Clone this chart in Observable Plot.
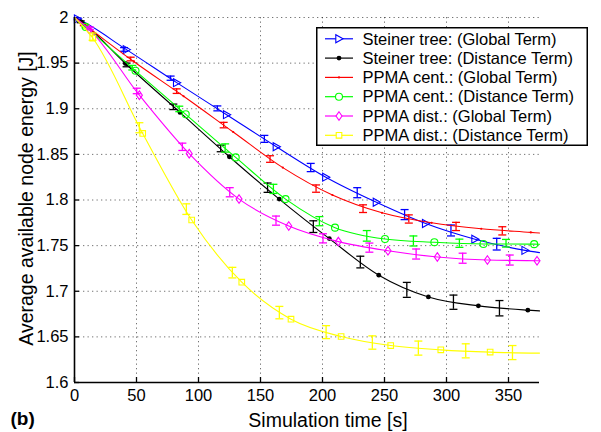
<!DOCTYPE html>
<html><head><meta charset="utf-8">
<script src="https://cdn.jsdelivr.net/npm/d3@7"></script>
<script src="https://cdn.jsdelivr.net/npm/@observablehq/plot@0.6"></script>
<style>
html,body{margin:0;padding:0;background:#fff;}
#wrap{position:relative;width:601px;height:432px;overflow:hidden;background:#fff;}
#legend{position:absolute;left:316px;top:27px;}
</style></head><body>
<div id="wrap"></div>
<script>
// ---------- axis ticks ----------
const xTicks = [0, 50, 100, 150, 200, 250, 300, 350];
const xTickLabels = ["0", "50", "100", "150", "200", "250", "300", "350"];
const yTicks = [1.6, 1.65, 1.7, 1.75, 1.8, 1.85, 1.9, 1.95, 2];
const yTickLabels = ["1.6", "1.65", "1.7", "1.75", "1.8", "1.85", "1.9", "1.95", "2"];
const xDomain = [0, 375];
const yDomain = [1.6, 2];
const xLabel = "Simulation time [s]";
const yLabel = "Average available node energy [J]";
const panelTag = "(b)";

// ---------- series ----------
const seriesNames = [
  "Steiner tree: (Global Term)",
  "Steiner tree: (Distance Term)",
  "PPMA cent.: (Global Term)",
  "PPMA cent.: (Distance Term)",
  "PPMA dist.: (Global Term)",
  "PPMA dist.: (Distance Term)"
];
const seriesColors = ["#0000ff", "#000000", "#ff0000", "#00ff00", "#ff00ff", "#ffff00"];
const startTime = 0, startEnergy = 2.0, endTime = 375;

// Steiner tree: (Global Term)
const stGlobalMarkX = [2.5, 41.9, 82.4, 122.7, 162.8, 202.7, 243.5, 283.2, 323, 363.4];
const stGlobalMarkY = [1.9985, 1.9648, 1.9286, 1.8935, 1.8584, 1.8250, 1.7975, 1.7742, 1.7570, 1.7448];
const stGlobalEnd = 1.7423;
const stGlobalErrX = [2.5, 40, 77.5, 115.2, 153.1, 190.5, 228, 266.2, 303.6, 340.5];
const stGlobalErrY = [1.9985, 1.9650, 1.9335, 1.9004, 1.8670, 1.8356, 1.8080, 1.7840, 1.7666, 1.7516];
const stGlobalErrH = [0.001, 0.002, 0.0023, 0.0027, 0.0038, 0.0045, 0.0055, 0.0055, 0.006, 0.0064];

// Steiner tree: (Distance Term)
const stDistMarkX = [5.4, 41, 85.1, 124.9, 165.1, 205.5, 245.4, 285.4, 325.7, 365.6];
const stDistMarkY = [1.9953, 1.9496, 1.8960, 1.8474, 1.8010, 1.7577, 1.7176, 1.6938, 1.6840, 1.6793];
const stDistEnd = 1.6785;
const stDistErrX = [5, 42, 79.7, 117.9, 155.7, 192.6, 230.5, 268, 305.6, 342.7];
const stDistErrY = [1.9953, 1.9480, 1.9021, 1.8565, 1.8135, 1.7708, 1.7320, 1.7015, 1.6880, 1.6814];
const stDistErrH = [0.001, 0.002, 0.003, 0.0036, 0.0051, 0.0064, 0.0064, 0.0082, 0.0078, 0.0084];

// PPMA cent.: (Global Term)
const pcGlobalMarkX = [8, 48, 88, 128, 168, 208, 248, 288, 328, 368];
const pcGlobalMarkY = [1.9920, 1.9515, 1.9137, 1.8745, 1.8355, 1.8055, 1.7860, 1.7750, 1.7685, 1.7645];
const pcGlobalEnd = 1.7638;
const pcGlobalErrX = [7.5, 45.3, 82.4, 120.3, 157.7, 194.8, 232.7, 269.6, 307.7, 345];
const pcGlobalErrY = [1.9920, 1.9545, 1.9193, 1.8821, 1.8449, 1.8125, 1.7905, 1.7792, 1.7710, 1.7662];
const pcGlobalErrH = [0.001, 0.002, 0.0025, 0.003, 0.0036, 0.004, 0.0042, 0.0045, 0.0045, 0.0045];

// PPMA cent.: (Distance Term)
const pcDistMarkX = [9, 49.2, 89.7, 130, 170.2, 210.1, 250.4, 290.2, 329.8, 370.7];
const pcDistMarkY = [1.9897, 1.9416, 1.8939, 1.8467, 1.8010, 1.7697, 1.7573, 1.7537, 1.7518, 1.7516];
const pcDistEnd = 1.7515;
const pcDistErrX = [9, 46.6, 84.5, 121.5, 160.4, 197.5, 235.7, 273.3, 310.4, 348];
const pcDistErrY = [1.9897, 1.9450, 1.8998, 1.8570, 1.8122, 1.7768, 1.7607, 1.7551, 1.7526, 1.7526];
const pcDistErrH = [0.001, 0.0025, 0.003, 0.0045, 0.005, 0.005, 0.0058, 0.0055, 0.0045, 0.0042];

// PPMA dist.: (Global Term)
const pdGlobalMarkX = [12, 52.3, 92.5, 132.7, 172.8, 212.8, 252.8, 292.6, 333, 373];
const pdGlobalMarkY = [1.9868, 1.9149, 1.8508, 1.8010, 1.7715, 1.7544, 1.7444, 1.7376, 1.7342, 1.7334];
const pdGlobalEnd = 1.7333;
const pdGlobalErrX = [12.5, 50.2, 87, 125.2, 162.5, 200.4, 237.8, 275.5, 313, 351];
const pdGlobalErrY = [1.9880, 1.9195, 1.8583, 1.8085, 1.7774, 1.7580, 1.7478, 1.7408, 1.7362, 1.7342];
const pdGlobalErrH = [0.0015, 0.003, 0.004, 0.005, 0.005, 0.005, 0.005, 0.0055, 0.0055, 0.0055];

// PPMA dist.: (Distance Term)
const pdDistMarkX = [14.7, 55, 94.5, 134.9, 174.6, 215, 255, 295.4, 335.2];
const pdDistMarkY = [1.9775, 1.8730, 1.7781, 1.7099, 1.6694, 1.6504, 1.6405, 1.6358, 1.6333];
const pdDistEnd = 1.6322;
const pdDistErrX = [14.6, 52.3, 90.2, 127.3, 165.2, 202.9, 240.2, 277.3, 315.5, 353.2];
const pdDistErrY = [1.9790, 1.8792, 1.7900, 1.7204, 1.6766, 1.6552, 1.6438, 1.6377, 1.6347, 1.6328];
const pdDistErrH = [0.004, 0.0055, 0.0058, 0.0058, 0.0068, 0.0071, 0.0073, 0.0077, 0.0077, 0.0077];

// ---------- build ----------
const raw = [
  [stGlobalMarkX, stGlobalMarkY, stGlobalEnd, stGlobalErrX, stGlobalErrY, stGlobalErrH],
  [stDistMarkX, stDistMarkY, stDistEnd, stDistErrX, stDistErrY, stDistErrH],
  [pcGlobalMarkX, pcGlobalMarkY, pcGlobalEnd, pcGlobalErrX, pcGlobalErrY, pcGlobalErrH],
  [pcDistMarkX, pcDistMarkY, pcDistEnd, pcDistErrX, pcDistErrY, pcDistErrH],
  [pdGlobalMarkX, pdGlobalMarkY, pdGlobalEnd, pdGlobalErrX, pdGlobalErrY, pdGlobalErrH],
  [pdDistMarkX, pdDistMarkY, pdDistEnd, pdDistErrX, pdDistErrY, pdDistErrH]
];
const series = raw.map(([mx, my, end, ex, ey, eh], i) => {
  const markers = mx.map((t, j) => ({t, e: my[j]}));
  return {
    name: seriesNames[i],
    color: seriesColors[i],
    markers,
    line: [{t: startTime, e: startEnergy}, ...markers, {t: endTime, e: end}],
    errs: ex.map((t, j) => ({t, e: ey[j], h: eh[j]}))
  };
});

// ---------- symbols ----------
function sym(fn) { return {draw(ctx, size) { const r = Math.sqrt(size / Math.PI); fn(ctx, r); }}; }
const triRight = sym((c, r) => { c.moveTo(r, 0); c.lineTo(-0.8 * r, -r); c.lineTo(-0.8 * r, r); c.closePath(); });
const diamond = sym((c, r) => { c.moveTo(0, -r); c.lineTo(0.7 * r, 0); c.lineTo(0, r); c.lineTo(-0.7 * r, 0); c.closePath(); });
const square = sym((c, r) => { c.rect(-r, -r, 2 * r, 2 * r); });
const ring = sym((c, r) => { c.moveTo(r, 0); c.arc(0, 0, r, 0, 2 * Math.PI); });
const disc = sym((c, r) => { c.moveTo(r, 0); c.arc(0, 0, r, 0, 2 * Math.PI); });
const cap = sym((c, r) => { c.moveTo(-r, 0); c.lineTo(r, 0); });
const markerStyles = [
  {symbol: triRight, r: 4, filled: false},
  {symbol: disc, r: 2.4, filled: true},
  {symbol: disc, r: 1.1, filled: true},
  {symbol: ring, r: 3.5, filled: false},
  {symbol: diamond, r: 4.3, filled: false},
  {symbol: square, r: 2.8, filled: false}
];

// ---------- plot ----------
const W = 601, H = 432, mL = 74, mR = 62, mT = 17, mB = 50;
const plotW = W - mL - mR, plotH = H - mT - mB;
const FONT = "'Liberation Sans', Arial, Helvetica, sans-serif";
const lookup = (ticks, labels) => d => labels[ticks.findIndex(t => Math.abs(t - d) < 1e-9)];
const gridStyle = {stroke: "#000", strokeOpacity: 0.55, strokeDasharray: "1.3,3.2", strokeWidth: 1};

const marks = [
  Plot.gridX(xTicks.filter(d => d > xDomain[0]), gridStyle),
  Plot.gridY(yTicks.filter(d => d > yDomain[0]), gridStyle),
  Plot.axisX(xTicks, {tickSize: 0, tickPadding: 7, tickFormat: lookup(xTicks, xTickLabels), label: null, fontSize: 16.5, fill: "#000"}),
  Plot.axisY(yTicks, {tickSize: 0, tickPadding: 6, tickFormat: lookup(yTicks, yTickLabels), label: null, fontSize: 16.5, fill: "#000"}),
  Plot.tickX(xTicks, {x: d => d, insetTop: plotH - 5, stroke: "#000", strokeWidth: 1.3}),
  Plot.tickY(yTicks, {y: d => d, insetRight: plotW - 5, stroke: "#000", strokeWidth: 1.3}),
];
series.forEach((s, i) => {
  const ms = markerStyles[i];
  marks.push(
    Plot.line(s.line, {x: "t", y: "e", stroke: s.color, strokeWidth: 1.1, curve: "monotone-x"}),
    Plot.ruleX(s.errs, {x: "t", y1: d => d.e - d.h, y2: d => d.e + d.h, stroke: s.color, strokeWidth: 1.3}),
    Plot.dot(s.errs, {x: "t", y: d => d.e + d.h, symbol: cap, r: 4, stroke: s.color, fill: "none", strokeWidth: 1.3}),
    Plot.dot(s.errs, {x: "t", y: d => d.e - d.h, symbol: cap, r: 4, stroke: s.color, fill: "none", strokeWidth: 1.3}),
    Plot.dot(s.markers, ms.filled
      ? {x: "t", y: "e", symbol: ms.symbol, r: ms.r, fill: s.color, stroke: "none"}
      : {x: "t", y: "e", symbol: ms.symbol, r: ms.r, fill: "none", stroke: s.color, strokeWidth: 1.1})
  );
});
marks.push(
  Plot.ruleX([xDomain[0]], {stroke: "#000", strokeWidth: 1.6}),
  Plot.ruleY([yDomain[0]], {stroke: "#000", strokeWidth: 1.6}),
  Plot.text([xLabel], {frameAnchor: "bottom", text: d => d, textAnchor: "middle", dx: 21, dy: 38.3, fontSize: 19.5, fill: "#000", lineAnchor: "middle"}),
  Plot.text([yLabel], {frameAnchor: "left", text: d => d, textAnchor: "middle", rotate: -90, dx: -47.7, dy: -1.5, fontSize: 19.5, fill: "#000", lineAnchor: "middle"}),
  Plot.text([panelTag], {frameAnchor: "bottom-left", text: d => d, textAnchor: "start", dx: -64, dy: 36.5, fontSize: 19, fontWeight: "bold", fill: "#000", lineAnchor: "middle"})
);

const chart = Plot.plot({
  width: W, height: H,
  marginLeft: mL, marginRight: mR, marginTop: mT, marginBottom: mB,
  x: {domain: xDomain},
  y: {domain: yDomain},
  style: {fontFamily: FONT, fontSize: "16.5px", color: "#000", background: "#fff", overflow: "visible"},
  marks
});
const wrap = document.getElementById("wrap");
wrap.appendChild(chart);

// ---------- legend (overlay) ----------
const LW = 272, LH = 119, rowTop = 11.8, rowStep = 19.3;
const leg = d3.select(wrap).append("svg").attr("id", "legend").attr("width", LW).attr("height", LH)
  .style("font-family", FONT).style("font-size", "16.5px");
leg.append("rect").attr("x", 0.75).attr("y", 0.75).attr("width", LW - 1.5).attr("height", LH - 1.5)
  .attr("fill", "#fff").attr("stroke", "#000").attr("stroke-width", 1.5);
series.forEach((s, i) => {
  const y = rowTop + i * rowStep;
  const g = leg.append("g").attr("transform", `translate(0,${y})`);
  g.append("line").attr("x1", 9).attr("x2", 37).attr("y1", 0).attr("y2", 0).attr("stroke", s.color).attr("stroke-width", 1.2);
  const ms = markerStyles[i];
  const size = ms.r * ms.r * Math.PI;
  const p = d3.path(); ms.symbol.draw(p, size);
  g.append("path").attr("d", p.toString()).attr("transform", "translate(23,0)")
    .attr("fill", ms.filled ? s.color : "#fff").attr("stroke", ms.filled ? "none" : s.color).attr("stroke-width", 1.1);
  g.append("text").attr("x", 46.5).attr("y", 0).attr("dy", "0.35em").attr("fill", "#000").text(s.name);
});
</script>
</body></html>
